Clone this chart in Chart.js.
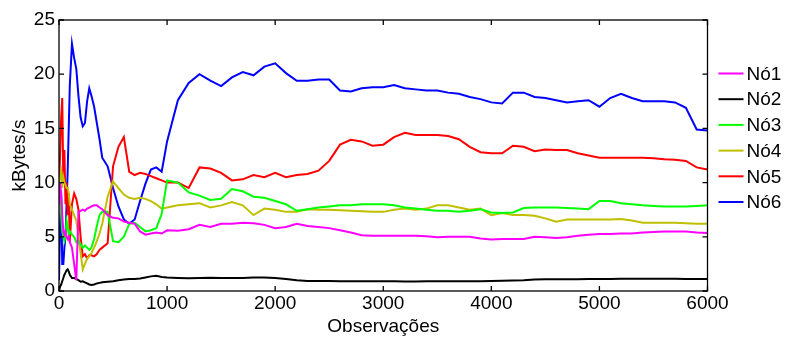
<!DOCTYPE html>
<html>
<head>
<meta charset="utf-8">
<script src="https://cdn.jsdelivr.net/npm/chart.js@4.4.0/dist/chart.umd.min.js"></script>
<style>
  html, body { margin: 0; padding: 0; background: #fff; }
  #wrap { width: 786px; height: 338px; }
</style>
</head>
<body>
<div id="wrap"><canvas id="chart"></canvas></div>
<script>
// observation index (denser at the start, where the curves move a lot)
const obs = [0, 10, 20, 30, 40, 50, 60, 70, 80, 90, 100,
  120, 140, 160, 180, 200, 220, 240, 260, 280, 300,
  325, 350, 375, 400,
  450, 500, 550, 600, 650, 700, 750, 800, 850, 900, 950, 1000,
  1100, 1200, 1300, 1400, 1500, 1600, 1700, 1800, 1900, 2000,
  2100, 2200, 2300, 2400, 2500, 2600, 2700, 2800, 2900, 3000,
  3100, 3200, 3300, 3400, 3500, 3600, 3700, 3800, 3900, 4000,
  4100, 4200, 4300, 4400, 4500, 4600, 4700, 4800, 4900, 5000,
  5100, 5200, 5300, 5400, 5500, 5600, 5700, 5800, 5900, 6000];

const no1 = [8, 10, 9, 7, 5.5, 5.2, 5.5, 5.0, 4.8, 5.0, 4.5,
  4.0, 2.5, 1.0, 7.3, 7.4, 7.5, 7.4, 7.6, 7.7, 7.8,
  7.9, 7.9, 7.7, 7.55,
  7.0, 6.75, 6.7, 6.4, 6.3, 6.2, 5.5, 5.2, 5.3, 5.4, 5.3, 5.6,
  5.55, 5.7, 6.1, 5.9, 6.2, 6.2, 6.3, 6.25, 6.1, 5.8,
  5.9, 6.2, 6.0, 5.9, 5.8, 5.6, 5.4, 5.15, 5.1, 5.1,
  5.1, 5.1, 5.1, 5.05, 4.95, 5.0, 5.0, 5.0, 4.85, 4.75,
  4.8, 4.8, 4.8, 5.0, 4.95, 4.9, 4.95, 5.1, 5.2, 5.25,
  5.25, 5.3, 5.3, 5.4, 5.45, 5.5, 5.5, 5.5, 5.4, 5.35];

const no2 = [0, 0.4, 0.6, 0.9, 1.2, 1.5, 1.7, 1.9, 2.0, 1.8, 1.5,
  1.2, 1.2, 1.1, 1.0, 0.85, 0.9, 0.8, 0.7, 0.6, 0.55,
  0.6, 0.7, 0.75, 0.8,
  0.85, 0.9, 1.0, 1.05, 1.1, 1.1, 1.15, 1.25, 1.35, 1.4, 1.3, 1.25,
  1.2, 1.17, 1.2, 1.22, 1.2, 1.2, 1.2, 1.25, 1.25, 1.2,
  1.1, 1.0, 0.93, 0.92, 0.92, 0.9, 0.9, 0.9, 0.9, 0.9,
  0.9, 0.88, 0.88, 0.9, 0.9, 0.9, 0.9, 0.9, 0.9, 0.92,
  0.95, 0.98, 1.0, 1.05, 1.08, 1.08, 1.08, 1.08, 1.1, 1.1,
  1.1, 1.12, 1.12, 1.14, 1.14, 1.14, 1.12, 1.1, 1.1, 1.1];

const no3 = [10, 9, 7, 5.5, 5, 4.6, 5, 6.5, 6, 5.2, 5.5,
  5.2, 5.0, 4.5, 4.6, 4.3, 4.0, 4.2, 4.0, 3.8, 4.0,
  4.8, 6.0, 7.0, 7.3,
  7.3, 4.6, 4.5, 5.0, 6.2, 6.3, 5.9, 5.5, 5.6, 5.8, 7.1, 10.2,
  10.0, 9.1, 8.8, 8.4, 8.5, 9.4, 9.2, 8.7, 8.6, 8.3,
  8.0, 7.4, 7.55, 7.7, 7.8, 7.9, 7.9, 8.0, 8.0, 8.0,
  7.9, 7.7, 7.6, 7.5, 7.4, 7.4, 7.3, 7.4, 7.55, 7.25,
  7.2, 7.25, 7.65, 7.7, 7.7, 7.7, 7.65, 7.6, 7.55, 8.3,
  8.3, 8.1, 8.0, 7.9, 7.85, 7.8, 7.8, 7.8, 7.85, 7.9];

const no4 = [10, 10.5, 11, 9.5, 10.5, 10, 9.8, 9.5, 9.5, 9.0, 8.0,
  7.5, 7.0, 6.5, 5.0, 3.5, 2.0, 2.5, 3.0, 3.2, 3.5,
  4.0, 4.6, 5.3, 6.2,
  8.7, 10.1, 9.5, 8.9, 8.6, 8.5, 8.6, 8.5, 8.3, 8.0, 7.6, 7.7,
  7.9, 8.0, 8.1, 7.7, 7.9, 8.2, 7.9, 7.0, 7.6, 7.5,
  7.3, 7.3, 7.55, 7.5, 7.5, 7.45, 7.4, 7.35, 7.3, 7.3,
  7.5, 7.6, 7.5, 7.6, 7.9, 7.9, 7.7, 7.5, 7.6, 7.0,
  7.2, 7.0, 7.0, 6.95, 6.7, 6.4, 6.6, 6.6, 6.6, 6.6,
  6.6, 6.65, 6.5, 6.3, 6.3, 6.3, 6.3, 6.25, 6.2, 6.2];

const no5 = [10, 12.5, 16, 17.8, 10, 13, 8, 10, 7, 9, 4.5,
  8, 9, 8.5, 7.5, 5, 3.2, 3.4, 3.0, 3.3, 3.3,
  3.2, 3.4, 3.8, 4.0,
  4.4, 11.5, 13.3, 14.2, 11, 10.7, 10.9, 10.8, 10.6, 10.4, 10.2, 10.0,
  10.0, 9.5, 11.4, 11.3, 10.9, 10.2, 10.3, 10.7, 10.5, 10.9,
  10.5, 10.7, 10.8, 11.1, 12.0, 13.5, 13.95, 13.8, 13.4, 13.5,
  14.2, 14.6, 14.4, 14.4, 14.4, 14.3, 14.0, 13.3, 12.8, 12.7,
  12.7, 13.4, 13.3, 12.9, 13.05, 13.0, 13.0, 12.7, 12.5, 12.3,
  12.3, 12.3, 12.3, 12.3, 12.25, 12.15, 12.1, 12.0, 11.4, 11.2];

const no6 = [1, 6, 9, 2.5, 2.5, 4, 5, 8, 11, 15, 19,
  22.8, 21.5, 20.5, 18, 16, 15.2, 15.5, 17.5, 18.7, 18,
  17, 15.5, 14, 12.3,
  11.5, 9.5, 7.8, 6.6, 6.2, 6.6, 8.3, 9.9, 11.2, 11.4, 11.0, 13.8,
  17.6, 19.2, 20.0, 19.4, 18.9, 19.7, 20.2, 19.9, 20.7, 21.0,
  20.1, 19.4, 19.4, 19.5, 19.5, 18.5, 18.4, 18.7, 18.8, 18.8,
  19.0, 18.7, 18.6, 18.5, 18.5, 18.3, 18.2, 17.9, 17.7, 17.4,
  17.3, 18.3, 18.3, 17.9, 17.8, 17.6, 17.4, 17.5, 17.6, 17.0,
  17.8, 18.2, 17.8, 17.5, 17.5, 17.5, 17.4, 16.9, 14.9, 14.8];

const seriesNames = ['Nó1', 'Nó2', 'Nó3', 'Nó4', 'Nó5', 'Nó6'];
const seriesValues = [no1, no2, no3, no4, no5, no6];
const seriesColors = ['#ff00ff', '#000000', '#00ff00', '#bfbf00', '#ff0000', '#0000ff'];

const FONT = '"Liberation Sans", Arial, sans-serif';

const datasets = seriesNames.map((name, i) => ({
  label: name,
  data: obs.map((x, j) => ({ x: x, y: seriesValues[i][j] })),
  borderColor: seriesColors[i],
  borderWidth: 2,
  pointRadius: 0,
  tension: 0,
  fill: false
}));

// box round the plot with inward ticks on all four sides
const boxPlugin = {
  id: 'box',
  afterDatasetsDraw(chart) {
    const { ctx, chartArea: a, scales } = chart;
    ctx.save();
    ctx.strokeStyle = '#000';
    ctx.lineWidth = 1.3;
    ctx.strokeRect(a.left, a.top, a.right - a.left, a.bottom - a.top);
    ctx.beginPath();
    scales.x.ticks.forEach(t => {
      const px = scales.x.getPixelForValue(t.value);
      ctx.moveTo(px, a.bottom); ctx.lineTo(px, a.bottom - 5);
      ctx.moveTo(px, a.top); ctx.lineTo(px, a.top + 5);
    });
    scales.y.ticks.forEach(t => {
      const py = scales.y.getPixelForValue(t.value);
      ctx.moveTo(a.left, py); ctx.lineTo(a.left + 5, py);
      ctx.moveTo(a.right, py); ctx.lineTo(a.right - 5, py);
    });
    ctx.stroke();
    ctx.restore();
  }
};

// legend to the right of the box
const legendPlugin = {
  id: 'sideLegend',
  afterDraw(chart) {
    const { ctx, chartArea: a } = chart;
    ctx.save();
    ctx.font = '19px ' + FONT;
    ctx.textBaseline = 'middle';
    ctx.fillStyle = '#000';
    seriesNames.forEach((name, i) => {
      const y = 73.5 + i * 25.7;
      ctx.strokeStyle = seriesColors[i];
      ctx.lineWidth = 2;
      ctx.beginPath();
      ctx.moveTo(a.right + 11, y);
      ctx.lineTo(a.right + 36, y);
      ctx.stroke();
      ctx.fillText(name, a.right + 39, y + 1);
    });
    ctx.restore();
  }
};

new Chart(document.getElementById('chart'), {
  type: 'line',
  data: { datasets: datasets },
  plugins: [boxPlugin, legendPlugin],
  options: {
    responsive: true,
    maintainAspectRatio: false,
    animation: false,
    layout: { padding: { left: 0, top: 20, right: 78.5, bottom: 0 } },
    plugins: {
      legend: { display: false },
      tooltip: { enabled: false }
    },
    scales: {
      x: {
        type: 'linear',
        min: 0,
        max: 6000,
        grid: { display: false, drawTicks: false },
        border: { display: false },
        ticks: {
          stepSize: 1000,
          autoSkip: false,
          maxRotation: 0,
          padding: 1,
          color: '#000',
          font: { family: FONT, size: 19 },
          callback: v => String(v)
        },
        title: {
          display: true,
          text: 'Observações',
          color: '#000',
          font: { family: FONT, size: 19 },
          padding: { top: 0, bottom: 0 }
        },
        afterFit(scale) { scale.height = 47; }
      },
      y: {
        min: 0,
        max: 25,
        grid: { display: false, drawTicks: false },
        border: { display: false },
        ticks: {
          stepSize: 5,
          padding: 4,
          color: '#000',
          font: { family: FONT, size: 19 }
        },
        title: {
          display: true,
          text: 'kBytes/s',
          color: '#000',
          font: { family: FONT, size: 19 },
          padding: { top: 8, bottom: 0 }
        },
        afterFit(scale) { scale.width = 59; }
      }
    }
  }
});
</script>
</body>
</html>
